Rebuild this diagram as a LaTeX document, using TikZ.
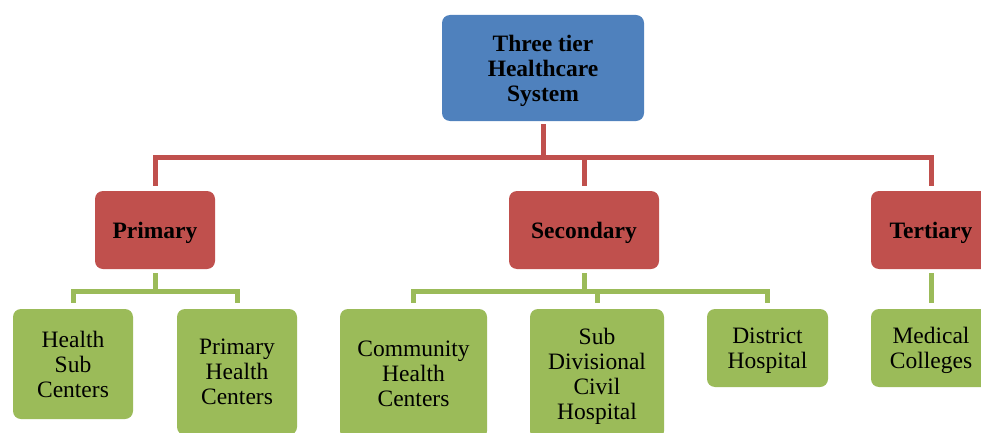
\documentclass[tikz,border=0pt]{standalone}
\usepackage{fontspec}
\setmainfont{Liberation Serif}
\definecolor{topblue}{HTML}{4F81BD}
\definecolor{tierred}{HTML}{C0504D}
\definecolor{leafgreen}{HTML}{9BBB59}
\tikzset{
  box/.style={rounded corners=8pt, inner sep=0pt, align=center, text=black,
    text depth=0pt, font=\fontsize{23.5}{25}\selectfont},
  topbox/.style={box, fill=topblue, font=\fontsize{23.5}{25}\selectfont\bfseries},
  tierbox/.style={box, fill=tierred, font=\fontsize{23.5}{25}\selectfont\bfseries},
  leafbox/.style={box, fill=leafgreen},
  redline/.style={draw=tierred, line width=5pt},
  greenline/.style={draw=leafgreen, line width=5pt},
}
\begin{document}
\begin{tikzpicture}[x=1pt,y=-1pt]
\useasboundingbox (0,0) rectangle (981,433);
\clip (0,0) rectangle (981,433);
% top
\node[topbox, minimum width=202pt, minimum height=106pt] (top) at (543,68) {Three tier\\Healthcare\\System};
% tiers
\node[tierbox, minimum width=120pt, minimum height=78pt] (prim) at (155,230) {Primary};
\node[tierbox, minimum width=150pt, minimum height=78pt] (sec) at (584,230) {Secondary};
\node[tierbox, minimum width=120pt, minimum height=78pt] (tert) at (931,230) {Tertiary};
% leaves
\node[leafbox, minimum width=120pt, minimum height=110pt] (hsc) at (73,364) {Health\\Sub\\Centers};
\node[leafbox, minimum width=120pt, minimum height=126pt] (phc) at (237,372) {Primary\\Health\\Centers};
\node[leafbox, minimum width=147pt, minimum height=130pt] (chc) at (413.5,374) {Community\\Health\\Centers};
\node[leafbox, minimum width=134pt, minimum height=130pt] (sdch) at (597,374) {Sub\\Divisional\\Civil\\Hospital};
\node[leafbox, minimum width=121pt, minimum height=78pt] (dh) at (767.5,348) {District\\Hospital};
\node[leafbox, minimum width=120pt, minimum height=78pt] (mc) at (931,348) {Medical\\Colleges};
% red connectors
\coordinate (rbar) at (543,157);
\draw[redline] ([yshift=-3pt]top.south) -- (rbar);
\draw[redline] ([yshift=5pt]prim.north) -- (prim.north |- rbar) -- (tert.north |- rbar) -- ([yshift=5pt]tert.north);
\draw[redline] (sec.north |- rbar) -- ([yshift=5pt]sec.north);
% green connectors primary
\coordinate (gbar1) at (155,291);
\draw[greenline] ([yshift=-4pt]prim.south) -- (gbar1);
\draw[greenline] ([yshift=6pt]hsc.north) -- (hsc.north |- gbar1) -- (phc.north |- gbar1) -- ([yshift=6pt]phc.north);
% green connectors secondary
\coordinate (gbar2) at (584,291);
\draw[greenline] ([yshift=-4pt]sec.south) -- (gbar2);
\draw[greenline] ([yshift=6pt]chc.north) -- (chc.north |- gbar2) -- (dh.north |- gbar2) -- ([yshift=6pt]dh.north);
\draw[greenline] (sdch.north |- gbar2) -- ([yshift=6pt]sdch.north);
% green connector tertiary
\draw[greenline] ([yshift=-4pt]tert.south) -- ([yshift=6pt]mc.north);
\end{tikzpicture}
\end{document}
